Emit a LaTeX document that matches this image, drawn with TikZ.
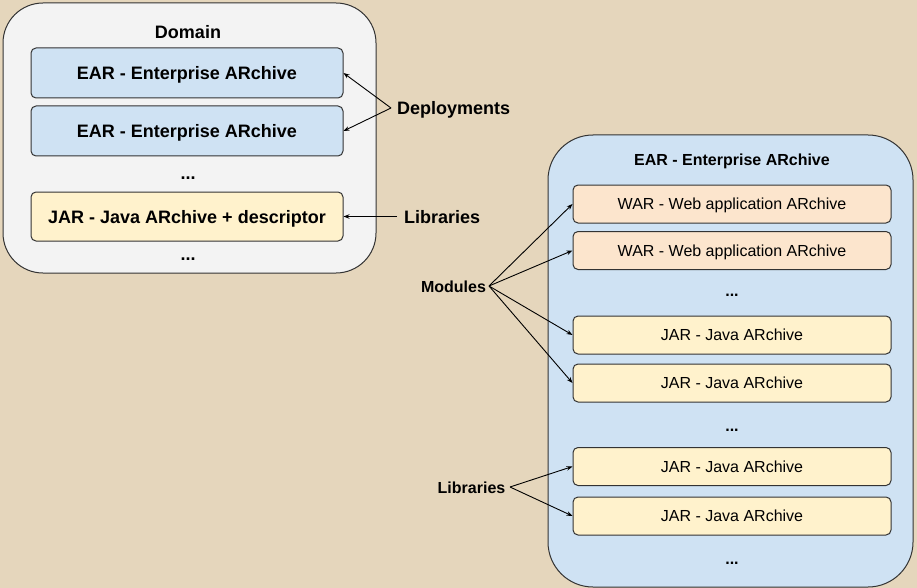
\documentclass[tikz,border=0pt]{standalone}
\usepackage{fontspec}
\setmainfont{Liberation Sans}
\usetikzlibrary{arrows.meta}
\definecolor{bg}{RGB}{229,214,188}
\definecolor{domfill}{RGB}{243,243,243}
\definecolor{earfill}{RGB}{207,226,243}
\definecolor{jarfill}{RGB}{255,242,204}
\definecolor{warfill}{RGB}{252,229,205}
\definecolor{edge}{RGB}{51,51,51}
\tikzset{
  container/.style={draw=edge, line width=1pt, rounded corners=#1, inner sep=0pt},
  bigtxt/.style={font=\fontsize{18}{20}\selectfont\bfseries, inner sep=0pt, text depth=0pt},
  midtxt/.style={font=\fontsize{16}{18}\selectfont\bfseries, inner sep=0pt, text depth=0pt},
  lbox/.style={draw=edge, line width=1pt, rounded corners=5pt, minimum width=312pt, minimum height=50pt, inner sep=0pt, text depth=0pt, font=\fontsize{18}{20}\selectfont\bfseries},
  rbox/.style={draw=edge, line width=1pt, rounded corners=5pt, minimum width=318pt, minimum height=38pt, inner sep=0pt, text depth=0pt, font=\fontsize{16}{18}\selectfont},
  conn/.style={line width=0.9pt, -{Stealth[length=6pt,width=4.5pt]}},
}
\begin{document}
\begin{tikzpicture}[x=1pt,y=-1pt]
\fill[bg] (0,0) rectangle (917,588);
\useasboundingbox (0,0) rectangle (917,588);
% Domain container
\node[container=40pt, fill=domfill, minimum width=373pt, minimum height=270pt] (domain) at (189.5,138) {};
\node[bigtxt] (domtitle) at (188,32) {Domain};
\node[lbox, fill=earfill] (ear1) at (187,73) {EAR - Enterprise ARchive};
\node[lbox, fill=earfill] (ear2) at (187,131) {EAR - Enterprise ARchive};
\node[bigtxt] (dots1) at (188,178) {...};
\node[lbox, fill=jarfill, minimum height=49pt] (jarl) at (187,216.5) {JAR - Java ARchive + descriptor};
\node[bigtxt] (dots2) at (188,259) {...};
% labels left
\node[bigtxt, anchor=west] (deploy) at (397,108) {Deployments};
\coordinate (dsplit) at (391,108);
\draw[conn] (dsplit) -- (ear1.east);
\draw[conn] (dsplit) -- (ear2.east);
\node[bigtxt, anchor=west] (libtop) at (404,217) {Libraries};
\coordinate (lsplit) at (397,216.5);
\draw[conn] (lsplit) -- (jarl.east);
% EAR container
\node[container=45pt, fill=earfill, minimum width=365pt, minimum height=452pt] (ear) at (730.5,361) {};
\node[midtxt] (eartitle) at (732,160) {EAR - Enterprise ARchive};
\node[rbox, fill=warfill] (war1) at (732,204) {WAR - Web application ARchive};
\node[rbox, fill=warfill] (war2) at (732,250.5) {WAR - Web application ARchive};
\node[midtxt] (dots3) at (732,295) {...};
\node[rbox, fill=jarfill] (jar1) at (732,335) {JAR - Java ARchive};
\node[rbox, fill=jarfill] (jar2) at (732,383) {JAR - Java ARchive};
\node[midtxt] (dots4) at (732,430) {...};
\node[rbox, fill=jarfill] (jar3) at (732,466.5) {JAR - Java ARchive};
\node[rbox, fill=jarfill] (jar4) at (732,516) {JAR - Java ARchive};
\node[midtxt] (dots5) at (732,563) {...};
% Modules
\node[midtxt] (modules) at (453.5,287) {Modules};
\coordinate (msplit) at (489,286);
\foreach \t in {war1,war2,jar1,jar2} \draw[conn] (msplit) -- (\t.west);
% Libraries bottom
\node[midtxt] (libbot) at (471.5,488) {Libraries};
\coordinate (bsplit) at (510,487);
\foreach \t in {jar3,jar4} \draw[conn] (bsplit) -- (\t.west);
\end{tikzpicture}
\end{document}
